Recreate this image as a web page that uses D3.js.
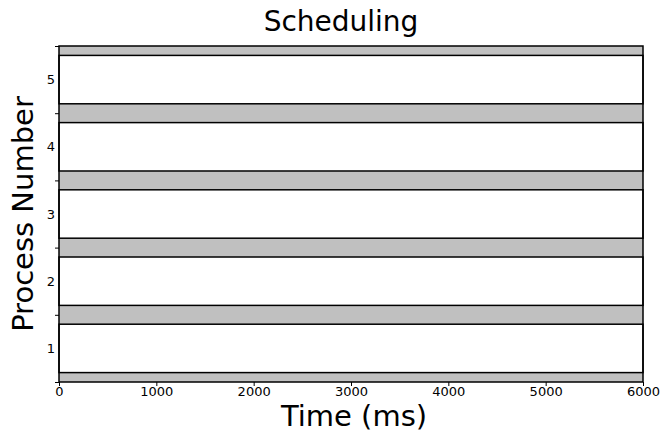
<!DOCTYPE html>
<html>
<head>
<meta charset="utf-8">
<script src="https://cdn.jsdelivr.net/npm/d3@7"></script>
<style>
  body { margin: 0; background: #fff; }
  text { font-family: "DejaVu Sans", sans-serif; }
</style>
</head>
<body>
<svg id="chart"></svg>
<script>
// processes and their run spans (ms)
const processes = [1, 2, 3, 4, 5];
const startTimes = [0, 0, 0, 0, 0];
const endTimes = [6000, 6000, 6000, 6000, 6000];
const xTicks = [0, 1000, 2000, 3000, 4000, 5000, 6000];
const yBoundaryTicks = [0.5, 1.5, 2.5, 3.5, 4.5, 5.5];

const width = 662, height = 435;
const margin = { top: 46, right: 19, bottom: 53, left: 59 };
const barHalf = 0.36;

const svg = d3.select("#chart")
  .attr("width", width)
  .attr("height", height);

const x = d3.scaleLinear()
  .domain([0, 6000])
  .range([margin.left, width - margin.right]);

const y = d3.scaleLinear()
  .domain([0.5, 5.5])
  .range([height - margin.bottom, margin.top]);

// gray background of plot area
svg.append("rect")
  .attr("x", x(0))
  .attr("y", y(5.5))
  .attr("width", x(6000) - x(0))
  .attr("height", y(0.5) - y(5.5))
  .style("fill", "#c0c0c0");

svg.selectAll("rect.bar")
  .data(processes)
  .enter()
  .append("rect")
  .attr("class", "bar")
  .attr("x", (d, i) => x(startTimes[i]))
  .attr("y", d => y(d + barHalf))
  .attr("width", (d, i) => x(endTimes[i]) - x(startTimes[i]))
  .attr("height", d => y(d - barHalf) - y(d + barHalf))
  .style("fill", "#fff")
  .style("stroke", "#000")
  .style("stroke-width", 1.5);

// x axis
const xAxis = svg.append("g")
  .attr("transform", "translate(0," + y(0.5) + ")")
  .call(d3.axisBottom(x).tickValues(xTicks).tickFormat(d3.format("d"))
    .tickSizeOuter(0).tickSize(4).tickPadding(1));
xAxis.select(".domain").remove();
xAxis.selectAll("text").style("font-size", "13px").style("fill", "#000");

// y axis: ticks at boundaries, labels at centers
const yAxis = svg.append("g")
  .attr("transform", "translate(" + x(0) + ",0)")
  .call(d3.axisLeft(y).tickValues(yBoundaryTicks).tickSizeOuter(0).tickSize(4).tickFormat(""));
yAxis.select(".domain").remove();

svg.append("g")
  .selectAll("text")
  .data(processes)
  .enter()
  .append("text")
  .attr("x", x(0) - 4)
  .attr("y", d => y(d))
  .attr("dy", "0.35em")
  .attr("text-anchor", "end")
  .style("font-size", "13px")
  .text(d => d);

// frame
svg.append("rect")
  .attr("x", x(0))
  .attr("y", y(5.5))
  .attr("width", x(6000) - x(0))
  .attr("height", y(0.5) - y(5.5))
  .style("fill", "none")
  .style("stroke", "#000")
  .style("stroke-width", 1.5);

svg.append("text")
  .attr("x", 341)
  .attr("y", 31)
  .attr("text-anchor", "middle")
  .style("font-size", "28px")
  .text("Scheduling");

svg.append("text")
  .attr("x", 354)
  .attr("y", 426)
  .attr("text-anchor", "middle")
  .style("font-size", "29px")
  .text("Time (ms)");

svg.append("text")
  .attr("transform", "translate(33," + (y(3)) + ") rotate(-90)")
  .attr("text-anchor", "middle")
  .style("font-size", "29px")
  .text("Process Number");
</script>
</body>
</html>
